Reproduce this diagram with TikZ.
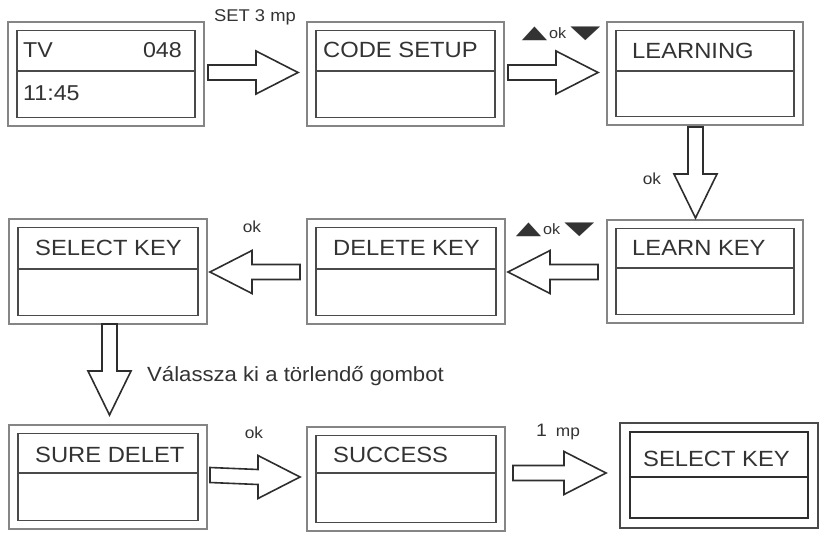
\documentclass[tikz,border=0pt]{standalone}
\usepackage{fontspec}
\setmainfont{Liberation Sans}[FakeStretch=1.08]
\newfontfamily\trifont{DejaVu Sans}
\usetikzlibrary{calc}
\definecolor{outerc}{HTML}{858585}
\definecolor{innerc}{HTML}{4A4A4A}
\definecolor{arrowc}{HTML}{2E2E2E}
\definecolor{textc}{HTML}{333333}
\tikzset{
  outerbox/.style={draw=outerc, line width=1.3pt, inner sep=0pt, outer sep=0pt, rectangle},
  innerline/.style={draw=innerc, line width=1.4pt},
  barrow/.style={draw=arrowc, line width=1.6pt, line join=miter, fill=white},
  scrlabel/.style={anchor=base west, inner sep=0pt, text=textc, font=\fontsize{22}{24}\selectfont},
  tvlabel/.style={inner sep=0pt, text=textc, font=\fontsize{21.5}{23}\selectfont},
  smalllabel/.style={anchor=base, inner sep=0pt, text=textc, font=\fontsize{16}{18}\selectfont},
}
\newcommand\screen[6]{% name, left, top, right, bottom, divider
  \node[outerbox, minimum width={(#4-#2)*1pt}, minimum height={(#5-#3)*1pt}] (#1) at ({(#2+#4)/2},{(#3+#5)/2}) {};
  \draw[innerline] ($(#1.north west)+(9,8.5)$) rectangle ($(#1.south east)+(-9,-8.5)$);
  \draw[innerline] ($(#1.north west)+(9,#6-#3)$) -- ($(#1.north east)+(-9,#6-#3)$);
}
\newcommand\rarrow[2]{%
  \draw[barrow] ($(#1)+(0,-7.5)$) -- ($(#2)+(-42,-7.5)$) -- ($(#2)+(-42,-21.5)$) -- (#2)
   -- ($(#2)+(-42,21.5)$) -- ($(#2)+(-42,7.5)$) -- ($(#1)+(0,7.5)$) -- cycle;}
\newcommand\larrow[2]{%
  \draw[barrow] ($(#1)+(0,-7.5)$) -- ($(#2)+(42,-7.5)$) -- ($(#2)+(42,-21.5)$) -- (#2)
   -- ($(#2)+(42,21.5)$) -- ($(#2)+(42,7.5)$) -- ($(#1)+(0,7.5)$) -- cycle;}
\newcommand\darrow[2]{%
  \draw[barrow] ($(#1)+(-7.5,0)$) -- ($(#2)+(-7.5,-44)$) -- ($(#2)+(-21.5,-44)$) -- (#2)
   -- ($(#2)+(21.5,-44)$) -- ($(#2)+(7.5,-44)$) -- ($(#1)+(7.5,0)$) -- cycle;}
\newcommand\upk{{\trifont\fontsize{20}{20}\selectfont\scalebox{1.65}[0.9]{▲}}}
\newcommand\dnk{{\trifont\fontsize{20}{20}\selectfont\scalebox{1.95}[0.9]{▼}}}
\begin{document}
\begin{tikzpicture}[x=1pt,y=-1pt]
\useasboundingbox[fill=white] (0,0) rectangle (824,537);
% screens
\screen{tv}{8}{22}{204}{126}{71}
\screen{code}{307}{22}{504}{126}{71}
\screen{learning}{607}{22}{803}{125}{71}
\screen{selkey}{9}{219}{207}{324}{269}
\screen{delkey}{307}{219}{505}{324}{269}
\screen{learnkey}{607}{220}{803}{323}{268}
\screen{sure}{9}{425}{207}{529}{473}
\screen{success}{307}{427}{505}{531}{473}
\node[outerbox, draw=innerc, line width=1.5pt, minimum width=198pt, minimum height=105pt] (selkeyb) at (719,475.5) {};
\draw[innerline, draw=arrowc] ($(selkeyb.north west)+(10,9)$) rectangle ($(selkeyb.south east)+(-10,-10)$);
\draw[innerline, draw=arrowc] ($(selkeyb.north west)+(10,54)$) -- ($(selkeyb.north east)+(-10,54)$);
% screen texts
\node[tvlabel, anchor=base west] (tvt) at (23,57.5) {TV};
\node[tvlabel, anchor=base east] (tvn) at (182,57.5) {048};
\node[tvlabel, anchor=base west] (tvc) at (23,101) {11:45};
\node[scrlabel] (codet) at (323,58) {CODE SETUP};
\node[scrlabel] (learningt) at (632,59) {LEARNING};
\node[scrlabel] (selkeyt) at (35,255) {SELECT KEY};
\node[scrlabel] (delkeyt) at (333,255) {DELETE KEY};
\node[scrlabel] (learnkeyt) at (632,256) {LEARN KEY};
\node[scrlabel] (suret) at (35,462) {SURE DELET};
\node[scrlabel] (successt) at (333,462) {SUCCESS};
\node[scrlabel] (selkeybt) at (643,466) {SELECT KEY};
% arrow end points
\coordinate (a1s) at ($(tv.east)+(4,-1.5)$);
\coordinate (a1e) at ($(code.west)+(-9,-1.5)$);
\coordinate (a2s) at ($(code.east)+(4,-1.5)$);
\coordinate (a2e) at ($(learning.west)+(-9,-1)$);
\coordinate (a3s) at ($(learning.south)+(-9.5,2)$);
\coordinate (a3e) at ($(learnkey.north)+(-9.5,-2)$);
\coordinate (a4s) at ($(learnkey.west)+(-9,0.5)$);
\coordinate (a4e) at ($(delkey.east)+(3,0.5)$);
\coordinate (a5s) at ($(delkey.west)+(-7,0.5)$);
\coordinate (a5e) at ($(selkey.east)+(3,0.5)$);
\coordinate (a6s) at ($(selkey.south)+(1.5,0)$);
\coordinate (a6e) at ($(sure.north)+(1.5,-10)$);
\coordinate (a7s) at ($(sure.east)+(3,-2)$);
\coordinate (a7e) at ($(success.west)+(-7,-2)$);
\coordinate (a8s) at ($(success.east)+(8,-6)$);
\coordinate (a8e) at ($(selkeyb.west)+(-14,-2.5)$);
\rarrow{a1s}{a1e}
\rarrow{a2s}{a2e}
\darrow{a3s}{a3e}
\larrow{a4s}{a4e}
\larrow{a5s}{a5e}
\darrow{a6s}{a6e}
\rarrow{a7s}{a7e}
\rarrow{a8s}{a8e}
% arrow labels
\node[smalllabel, font=\fontsize{17}{19}\selectfont] (l1) at (255,22) {SET 3 mp};
\node[smalllabel, font=\fontsize{15}{17}\selectfont] (l2) at (561,39) {\upk\hspace{2pt}ok\hspace{4pt}\dnk};
\node[smalllabel] (l3) at (652,185) {ok};
\node[smalllabel, font=\fontsize{15}{17}\selectfont] (l4) at (555,235) {\upk\hspace{2pt}ok\hspace{4pt}\dnk};
\node[smalllabel] (l5) at (252,233) {ok};
\node[smalllabel, anchor=base west, font=\fontsize{20.5}{22}\selectfont] (l6) at (147,381) {Válassza ki a törlendő gombot};
\node[smalllabel] (l7) at (254,438) {ok};
\node[smalllabel] (l8) at (558,436) {{\fontsize{18}{20}\selectfont 1}\hspace{9pt}mp};
\end{tikzpicture}
\end{document}
